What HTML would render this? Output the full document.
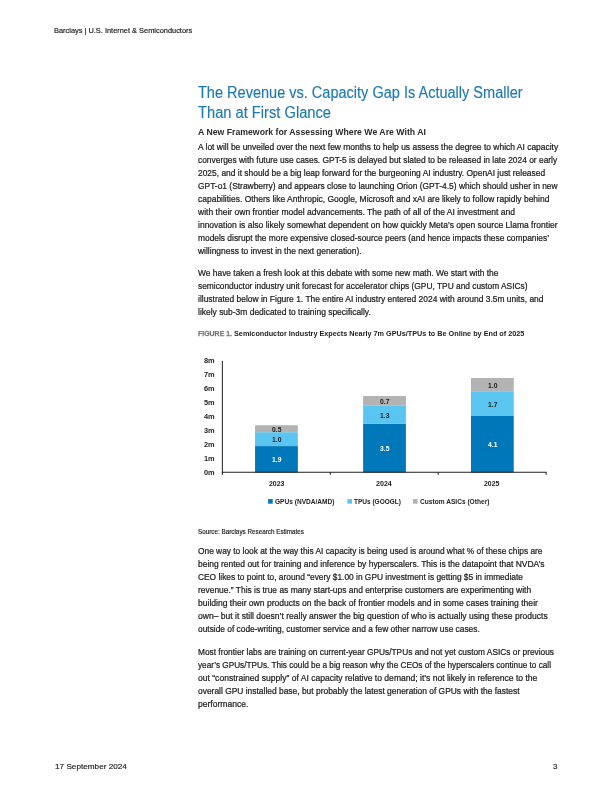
<!DOCTYPE html>
<html lang="en">
<head>
<meta charset="utf-8">
<title>Barclays | U.S. Internet &amp; Semiconductors</title>
<style>
html,body{margin:0;padding:0;background:#fff;}
body{width:612px;height:792px;position:relative;overflow:hidden;font-family:"Liberation Sans", Arial, sans-serif;}
.t{position:absolute;white-space:nowrap;transform-origin:0 0;line-height:1;margin:0;padding:0;}
.r{position:absolute;}
.b{-webkit-text-stroke:0.22px #1c1c1c;}
.b2{-webkit-text-stroke:0.18px #222;}
.h1{-webkit-text-stroke:0.15px #1e79ae;}
.cap1{-webkit-text-stroke:0.25px #747474;}
</style>
</head>
<body>
<svg class="r" style="left:0;top:0" width="612" height="792" viewBox="0 0 612 792">
<rect x="255.05" y="446.09" width="42.80" height="26.41" fill="#0077b8"/>
<rect x="255.05" y="432.19" width="42.80" height="13.90" fill="#5bc5f2"/>
<rect x="255.05" y="425.24" width="42.80" height="6.95" fill="#b3b3b3"/>
<rect x="363.10" y="423.85" width="42.80" height="48.65" fill="#0077b8"/>
<rect x="363.10" y="405.78" width="42.80" height="18.07" fill="#5bc5f2"/>
<rect x="363.10" y="396.05" width="42.80" height="9.73" fill="#b3b3b3"/>
<rect x="470.95" y="415.51" width="42.80" height="56.99" fill="#0077b8"/>
<rect x="470.95" y="391.88" width="42.80" height="23.63" fill="#5bc5f2"/>
<rect x="470.95" y="377.98" width="42.80" height="13.90" fill="#b3b3b3"/>
<path d="M222.35 360.94V474.90M221.85 472.25H546.60M330.30 472.25V474.90M438.20 472.25V474.90M546.10 472.25V474.90" fill="none" stroke="#1e1e1e" stroke-width="1"/>
<rect x="268.10" y="499.1" width="4.6" height="4.6" fill="#0077b8"/>
<rect x="347.40" y="499.1" width="4.6" height="4.6" fill="#5bc5f2"/>
<rect x="413.00" y="499.1" width="4.6" height="4.6" fill="#b3b3b3"/>
</svg>
<div class="t b2" id="l0" style="left:54.10px;top:26.60px;font-size:7.30px;font-weight:400;color:#222;transform:scaleX(1.0151);">Barclays | U.S. Internet &amp; Semiconductors</div>
<div class="t b2" id="l1" style="left:54.70px;top:763.30px;font-size:8.10px;font-weight:400;color:#222;transform:scaleX(1.0111);">17 September 2024</div>
<div class="t b2" id="l2" style="left:552.80px;top:763.30px;font-size:8.10px;font-weight:400;color:#222;transform:scaleX(0.9744);">3</div>
<div class="t h1" id="l3" style="left:198.20px;top:85.00px;font-size:15.60px;font-weight:400;color:#1e79ae;transform:scaleX(0.9316);">The Revenue vs. Capacity Gap Is Actually Smaller</div>
<div class="t h1" id="l4" style="left:198.20px;top:104.60px;font-size:15.60px;font-weight:400;color:#1e79ae;transform:scaleX(0.9415);">Than at First Glance</div>
<div class="t h2" id="l5" style="left:197.90px;top:127.50px;font-size:8.50px;font-weight:700;color:#2b2b2b;transform:scaleX(1.0248);">A New Framework for Assessing Where We Are With AI</div>
<div class="t b" id="l6" style="left:197.90px;top:142.60px;font-size:8.30px;font-weight:400;color:#1c1c1c;transform:scaleX(1.0196);">A lot will be unveiled over the next few months to help us assess the degree to which AI capacity</div>
<div class="t b" id="l7" style="left:197.90px;top:155.60px;font-size:8.30px;font-weight:400;color:#1c1c1c;transform:scaleX(1.0114);">converges with future use cases. GPT-5 is delayed but slated to be released in late 2024 or early</div>
<div class="t b" id="l8" style="left:197.90px;top:168.60px;font-size:8.30px;font-weight:400;color:#1c1c1c;transform:scaleX(1.0146);">2025, and it should be a big leap forward for the burgeoning AI industry. OpenAI just released</div>
<div class="t b" id="l9" style="left:197.90px;top:181.60px;font-size:8.30px;font-weight:400;color:#1c1c1c;transform:scaleX(1.0140);">GPT-o1 (Strawberry) and appears close to launching Orion (GPT-4.5) which should usher in new</div>
<div class="t b" id="l10" style="left:197.90px;top:194.60px;font-size:8.30px;font-weight:400;color:#1c1c1c;transform:scaleX(1.0214);">capabilities. Others like Anthropic, Google, Microsoft and xAI are likely to follow rapidly behind</div>
<div class="t b" id="l11" style="left:197.90px;top:207.60px;font-size:8.30px;font-weight:400;color:#1c1c1c;transform:scaleX(1.0282);">with their own frontier model advancements. The path of all of the AI investment and</div>
<div class="t b" id="l12" style="left:197.90px;top:220.60px;font-size:8.30px;font-weight:400;color:#1c1c1c;transform:scaleX(1.0264);">innovation is also likely somewhat dependent on how quickly Meta’s open source Llama frontier</div>
<div class="t b" id="l13" style="left:197.90px;top:233.60px;font-size:8.30px;font-weight:400;color:#1c1c1c;transform:scaleX(1.0110);">models disrupt the more expensive closed-source peers (and hence impacts these companies’</div>
<div class="t b" id="l14" style="left:197.90px;top:246.60px;font-size:8.30px;font-weight:400;color:#1c1c1c;transform:scaleX(1.0199);">willingness to invest in the next generation).</div>
<div class="t b" id="l15" style="left:197.90px;top:268.60px;font-size:8.30px;font-weight:400;color:#1c1c1c;transform:scaleX(1.0125);">We have taken a fresh look at this debate with some new math. We start with the</div>
<div class="t b" id="l16" style="left:197.90px;top:281.60px;font-size:8.30px;font-weight:400;color:#1c1c1c;transform:scaleX(1.0069);">semiconductor industry unit forecast for accelerator chips (GPU, TPU and custom ASICs)</div>
<div class="t b" id="l17" style="left:197.90px;top:294.60px;font-size:8.30px;font-weight:400;color:#1c1c1c;transform:scaleX(1.0182);">illustrated below in Figure 1. The entire AI industry entered 2024 with around 3.5m units, and</div>
<div class="t b" id="l18" style="left:197.90px;top:307.60px;font-size:8.30px;font-weight:400;color:#1c1c1c;transform:scaleX(1.0191);">likely sub-3m dedicated to training specifically.</div>
<div class="t cap1" id="l19" style="left:197.80px;top:330.00px;font-size:7.30px;font-weight:700;color:#747474;transform:scaleX(0.9527);">FIGURE 1.</div>
<div class="t cap2" id="l20" style="left:234.40px;top:330.00px;font-size:7.30px;font-weight:700;color:#222;transform:scaleX(0.9946);">Semiconductor Industry Expects Nearly 7m GPUs/TPUs to Be Online by End of 2025</div>
<div class="t b2" id="l21" style="left:197.90px;top:529.00px;font-size:6.90px;font-weight:400;color:#222;transform:scaleX(0.9156);">Source: Barclays Research Estimates</div>
<div class="t b" id="l22" style="left:197.90px;top:546.70px;font-size:8.30px;font-weight:400;color:#1c1c1c;transform:scaleX(1.0067);">One way to look at the way this AI capacity is being used is around what % of these chips are</div>
<div class="t b" id="l23" style="left:197.90px;top:559.70px;font-size:8.30px;font-weight:400;color:#1c1c1c;transform:scaleX(1.0194);">being rented out for training and inference by hyperscalers. This is the datapoint that NVDA’s</div>
<div class="t b" id="l24" style="left:197.90px;top:572.70px;font-size:8.30px;font-weight:400;color:#1c1c1c;transform:scaleX(1.0079);">CEO likes to point to, around “every $1.00 in GPU investment is getting $5 in immediate</div>
<div class="t b" id="l25" style="left:197.90px;top:585.70px;font-size:8.30px;font-weight:400;color:#1c1c1c;transform:scaleX(1.0164);">revenue.” This is true as many start-ups and enterprise customers are experimenting with</div>
<div class="t b" id="l26" style="left:197.90px;top:598.70px;font-size:8.30px;font-weight:400;color:#1c1c1c;transform:scaleX(1.0307);">building their own products on the back of frontier models and in some cases training their</div>
<div class="t b" id="l27" style="left:197.90px;top:611.70px;font-size:8.30px;font-weight:400;color:#1c1c1c;transform:scaleX(1.0288);">own– but it still doesn’t really answer the big question of who is actually using these products</div>
<div class="t b" id="l28" style="left:197.90px;top:624.70px;font-size:8.30px;font-weight:400;color:#1c1c1c;transform:scaleX(1.0083);">outside of code-writing, customer service and a few other narrow use cases.</div>
<div class="t b" id="l29" style="left:197.90px;top:647.60px;font-size:8.30px;font-weight:400;color:#1c1c1c;transform:scaleX(1.0039);">Most frontier labs are training on current-year GPUs/TPUs and not yet custom ASICs or previous</div>
<div class="t b" id="l30" style="left:197.90px;top:660.60px;font-size:8.30px;font-weight:400;color:#1c1c1c;transform:scaleX(0.9890);">year’s GPUs/TPUs. This could be a big reason why the CEOs of the hyperscalers continue to call</div>
<div class="t b" id="l31" style="left:197.90px;top:673.60px;font-size:8.30px;font-weight:400;color:#1c1c1c;transform:scaleX(1.0309);">out “constrained supply” of AI capacity relative to demand; it’s not likely in reference to the</div>
<div class="t b" id="l32" style="left:197.90px;top:686.60px;font-size:8.30px;font-weight:400;color:#1c1c1c;transform:scaleX(1.0150);">overall GPU installed base, but probably the latest generation of GPUs with the fastest</div>
<div class="t b" id="l33" style="left:197.90px;top:699.60px;font-size:8.30px;font-weight:400;color:#1c1c1c;transform:scaleX(1.0288);">performance.</div>
<div class="t yl" id="l34" style="left:203.90px;top:469.60px;font-size:6.90px;font-weight:700;color:#222;transform:scaleX(1.0734);">0m</div>
<div class="t yl" id="l35" style="left:203.90px;top:455.63px;font-size:6.90px;font-weight:700;color:#222;transform:scaleX(1.0734);">1m</div>
<div class="t yl" id="l36" style="left:203.90px;top:441.66px;font-size:6.90px;font-weight:700;color:#222;transform:scaleX(1.0734);">2m</div>
<div class="t yl" id="l37" style="left:203.90px;top:427.69px;font-size:6.90px;font-weight:700;color:#222;transform:scaleX(1.0734);">3m</div>
<div class="t yl" id="l38" style="left:203.90px;top:413.72px;font-size:6.90px;font-weight:700;color:#222;transform:scaleX(1.0734);">4m</div>
<div class="t yl" id="l39" style="left:203.90px;top:399.75px;font-size:6.90px;font-weight:700;color:#222;transform:scaleX(1.0734);">5m</div>
<div class="t yl" id="l40" style="left:203.90px;top:385.78px;font-size:6.90px;font-weight:700;color:#222;transform:scaleX(1.0734);">6m</div>
<div class="t yl" id="l41" style="left:203.90px;top:371.81px;font-size:6.90px;font-weight:700;color:#222;transform:scaleX(1.0734);">7m</div>
<div class="t yl" id="l42" style="left:203.90px;top:357.84px;font-size:6.90px;font-weight:700;color:#222;transform:scaleX(1.0734);">8m</div>
<div class="t xl" id="l43" style="left:268.50px;top:480.90px;font-size:6.90px;font-weight:700;color:#222;transform:scaleX(1.0102);">2023</div>
<div class="t xl" id="l44" style="left:376.20px;top:480.90px;font-size:6.90px;font-weight:700;color:#222;transform:scaleX(1.0297);">2024</div>
<div class="t xl" id="l45" style="left:484.40px;top:480.90px;font-size:6.90px;font-weight:700;color:#222;transform:scaleX(1.0037);">2025</div>
<div class="t lg" id="l46" style="left:275.00px;top:498.80px;font-size:6.90px;font-weight:700;color:#222;transform:scaleX(0.9534);">GPUs (NVDA/AMD)</div>
<div class="t lg" id="l47" style="left:353.80px;top:498.80px;font-size:6.90px;font-weight:700;color:#222;transform:scaleX(0.9444);">TPUs (GOOGL)</div>
<div class="t lg" id="l48" style="left:419.90px;top:498.80px;font-size:6.90px;font-weight:700;color:#222;transform:scaleX(0.9574);">Custom ASICs (Other)</div>
<div class="t bl" id="l49" style="left:271.75px;top:457.30px;font-size:6.90px;font-weight:700;color:#fff;transform:scaleX(0.9798);">1.9</div>
<div class="t bl" id="l50" style="left:271.75px;top:437.14px;font-size:6.90px;font-weight:700;color:#1a1a1a;transform:scaleX(0.9798);">1.0</div>
<div class="t bl" id="l51" style="left:271.75px;top:426.71px;font-size:6.90px;font-weight:700;color:#1a1a1a;transform:scaleX(0.9798);">0.5</div>
<div class="t bl" id="l52" style="left:379.80px;top:446.18px;font-size:6.90px;font-weight:700;color:#fff;transform:scaleX(0.9798);">3.5</div>
<div class="t bl" id="l53" style="left:379.80px;top:412.81px;font-size:6.90px;font-weight:700;color:#1a1a1a;transform:scaleX(0.9798);">1.3</div>
<div class="t bl" id="l54" style="left:379.80px;top:398.92px;font-size:6.90px;font-weight:700;color:#1a1a1a;transform:scaleX(0.9798);">0.7</div>
<div class="t bl" id="l55" style="left:487.65px;top:442.00px;font-size:6.90px;font-weight:700;color:#fff;transform:scaleX(0.9798);">4.1</div>
<div class="t bl" id="l56" style="left:487.65px;top:401.69px;font-size:6.90px;font-weight:700;color:#1a1a1a;transform:scaleX(0.9798);">1.7</div>
<div class="t bl" id="l57" style="left:487.65px;top:382.93px;font-size:6.90px;font-weight:700;color:#1a1a1a;transform:scaleX(0.9798);">1.0</div>
</body>
</html>
